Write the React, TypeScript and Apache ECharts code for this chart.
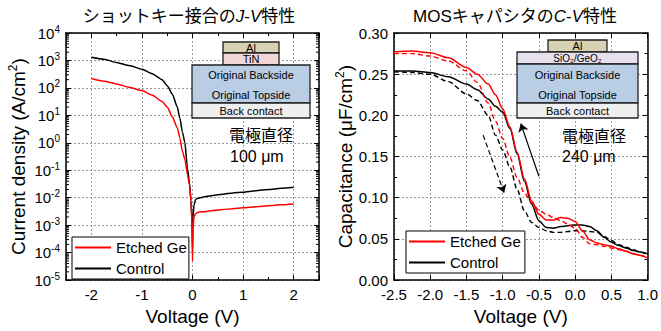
import React, { useEffect, useRef } from 'react';
import * as echarts from 'echarts';

const FONT = "'Liberation Sans', Arial, 'Noto Sans CJK JP', sans-serif";
const CJK = "'Liberation Sans', 'Noto Sans CJK JP', sans-serif";

// ---- J-V data (Schottky) ----
const jvVoltage = [-2, -1.75, -1.5, -1.25, -1, -0.8, -0.6, -0.5, -0.4, -0.3, -0.25, -0.2, -0.15, -0.1, -0.06, -0.03, -0.01, 0, 0.01, 0.03, 0.06, 0.1, 0.2, 0.4, 0.6, 0.8, 1.0, 1.25, 1.5, 1.75, 2.0];
const jvEtched = [220, 175, 140, 105, 80, 55, 32, 20, 9, 3.5, 1.5, 0.5, 0.25, 0.07, 0.03, 0.008, 0.001, 0.00005, 0.0008, 0.002, 0.0026, 0.0029, 0.0031, 0.0034, 0.0037, 0.004, 0.0043, 0.0047, 0.0051, 0.0055, 0.0059];
const jvControl = [1300, 1100, 850, 650, 480, 330, 200, 120, 60, 20, 8, 2.5, 1.0, 0.12, 0.035, 0.008, 0.0015, 0.00015, 0.002, 0.0055, 0.0085, 0.0095, 0.0105, 0.012, 0.0135, 0.015, 0.016, 0.018, 0.02, 0.022, 0.024];
const jvExponents = [-5, -4, -3, -2, -1, 0, 1, 2, 3, 4];

// ---- C-V data (MOS capacitor) ----
const cvVoltage = [-2.5, -2.25, -2.0, -1.75, -1.5, -1.35, -1.2, -1.1, -1.0, -0.9, -0.8, -0.7, -0.6, -0.5, -0.4, -0.3, -0.2, -0.1, 0.0, 0.1, 0.2, 0.3, 0.4, 0.5, 0.6, 0.7, 0.8, 0.9, 1.0];
const cvEtchedSolid = [0.277, 0.278, 0.276, 0.270, 0.258, 0.250, 0.238, 0.225, 0.208, 0.186, 0.155, 0.123, 0.096, 0.080, 0.073, 0.073, 0.076, 0.075, 0.071, 0.060, 0.049, 0.045, 0.043, 0.041, 0.038, 0.035, 0.032, 0.030, 0.027];
const cvEtchedDashed = [0.275, 0.275, 0.272, 0.266, 0.254, 0.240, 0.215, 0.193, 0.172, 0.149, 0.124, 0.106, 0.094, 0.085, 0.080, 0.076, 0.072, 0.068, 0.063, 0.052, 0.044, 0.043, 0.041, 0.039, 0.037, 0.035, 0.032, 0.030, 0.027];
const cvControlSolid = [0.254, 0.254, 0.252, 0.247, 0.238, 0.231, 0.220, 0.211, 0.204, 0.184, 0.153, 0.120, 0.092, 0.072, 0.064, 0.063, 0.065, 0.066, 0.067, 0.067, 0.065, 0.060, 0.052, 0.046, 0.042, 0.039, 0.036, 0.034, 0.032];
const cvControlDashed = [0.253, 0.252, 0.250, 0.241, 0.226, 0.218, 0.200, 0.176, 0.158, 0.137, 0.110, 0.084, 0.070, 0.064, 0.060, 0.058, 0.058, 0.059, 0.060, 0.060, 0.059, 0.058, 0.053, 0.048, 0.043, 0.040, 0.037, 0.034, 0.031];
const arrowSolid = [[-0.5, 0.126], [-0.75, 0.19]];
const arrowDashed = [[-1.27, 0.176], [-0.98, 0.106]];

const legendNames = ['Etched Ge', 'Control'];
const RED = '#ff0000';
const BLACK = '#000000';

const pair = (xs: number[], ys: number[]) => xs.map((x, i) => [x, ys[i]]);

const logMinor: number[] = [];
for (let i = 0; i < jvExponents.length - 1; i++) {
  for (let m = 2; m <= 9; m++) logMinor.push(m * Math.pow(10, jvExponents[i]));
}

const axisLine = { show: true, onZero: false, lineStyle: { color: '#000', width: 1.5 } };
const axisTick = { show: true, inside: true, length: 5, lineStyle: { color: '#000', width: 1 } };
const minorTick = { show: true, splitNumber: 2, length: 3, lineStyle: { color: '#000', width: 1 } };
const splitLine = { show: true, lineStyle: { color: '#9a9a9a', type: [2, 2], width: 1 } };
const labelStyle = { color: '#000', fontSize: 15, fontFamily: FONT };
const nameStyle = {
  color: '#000', fontSize: 19, fontFamily: FONT,
  rich: {
    n: { fontSize: 19, fontFamily: FONT, color: '#000', lineHeight: 22 },
    s: { fontSize: 12, fontFamily: FONT, color: '#000', lineHeight: 12, verticalAlign: 'top' },
  },
};

function box(x: number, y: number, w: number, h: number, fill: string) {
  return { type: 'rect', shape: { x, y, width: w, height: h }, style: { fill, stroke: '#222', lineWidth: 1.3 }, z: 100 };
}
function label(x: number, y: number, text: string, size: number, align = 'center', family = FONT) {
  return { type: 'text', x, y, style: { text, fill: '#000', fontSize: size, fontFamily: family, align, verticalAlign: 'middle' }, z: 101 };
}

const legendBase = {
  data: legendNames, orient: 'vertical', itemWidth: 36, itemHeight: 14, itemGap: 6,
  borderColor: '#000', borderWidth: 1, backgroundColor: '#fff', borderRadius: 0,
  itemStyle: { opacity: 0 },
  textStyle: { fontSize: 15, color: '#000', fontFamily: FONT }, selectedMode: false, z: 50,
};

export default function App() {
  const ref = useRef<HTMLDivElement>(null);
  useEffect(() => {
    if (!ref.current) return;
    const chart = echarts.init(ref.current, undefined, { renderer: 'svg' });
    const titleRich = {
      a: { fontSize: 17, fontFamily: CJK, color: '#000' },
      i: { fontSize: 17, fontFamily: FONT, fontStyle: 'italic', color: '#000' },
    };
    const option: any = {
      animation: false,
      backgroundColor: '#fff',
      textStyle: { fontFamily: FONT },
      grid: [
        { left: 66, top: 33, width: 253, height: 253 },
        { left: 394, top: 33, width: 254, height: 253 },
      ],
      xAxis: [
        {
          gridIndex: 0, type: 'value', min: -2.5, max: 2.5, minInterval: 1, maxInterval: 1, position: 'bottom',
          name: 'Voltage (V)', nameLocation: 'middle', nameGap: 22, nameTextStyle: nameStyle,
          axisLine, axisTick, minorTick, splitLine,
          axisLabel: { ...labelStyle, margin: 7, formatter: (v: number) => (Number.isInteger(v) ? String(v) : '') },
        },
        {
          gridIndex: 0, type: 'value', min: -2.5, max: 2.5, minInterval: 1, maxInterval: 1, position: 'top',
          axisLine, axisTick, minorTick, splitLine: { show: false }, axisLabel: { show: false },
        },
        {
          gridIndex: 1, type: 'value', min: -2.5, max: 1.0, interval: 0.5, position: 'bottom',
          name: 'Voltage (V)', nameLocation: 'middle', nameGap: 22, nameTextStyle: nameStyle,
          axisLine, axisTick, splitLine,
          axisLabel: { ...labelStyle, margin: 7, formatter: (v: number) => v.toFixed(1) },
        },
        {
          gridIndex: 1, type: 'value', min: -2.5, max: 1.0, interval: 0.5, position: 'top',
          axisLine, axisTick, splitLine: { show: false }, axisLabel: { show: false },
        },
      ],
      yAxis: [
        {
          gridIndex: 0, type: 'log', logBase: 10, min: 1e-5, max: 1e4, splitNumber: 9, position: 'left',
          name: '{n|Current density (A/cm}{s|2}{n|)}', nameLocation: 'middle', nameGap: 37, nameTextStyle: nameStyle,
          axisLine, axisTick, splitLine,
          axisLabel: {
            ...labelStyle, margin: 6,
            formatter: (v: number) => `{b|10}{s|${Math.round(Math.log10(v))}}`,
            rich: {
              b: { fontSize: 15, fontFamily: FONT, color: '#000', lineHeight: 18 },
              s: { fontSize: 10, fontFamily: FONT, color: '#000', lineHeight: 10, verticalAlign: 'top' },
            },
          },
        },
        {
          gridIndex: 0, type: 'log', logBase: 10, min: 1e-5, max: 1e4, splitNumber: 9, position: 'right',
          axisLine, axisTick, splitLine: { show: false }, axisLabel: { show: false },
        },
        {
          gridIndex: 1, type: 'value', min: 0, max: 0.3, interval: 0.05, position: 'left',
          name: '{n|Capacitance (μF/cm}{s|2}{n|)}', nameLocation: 'middle', nameGap: 37, nameTextStyle: nameStyle,
          axisLine, axisTick, minorTick, splitLine,
          axisLabel: { ...labelStyle, margin: 6, formatter: (v: number) => v.toFixed(2) },
        },
        {
          gridIndex: 1, type: 'value', min: 0, max: 0.3, interval: 0.05, position: 'right',
          axisLine, axisTick, minorTick, splitLine: { show: false }, axisLabel: { show: false },
        },
      ],
      legend: [
        { ...legendBase, left: 72, top: 237, padding: [3, 2, 3, 2] },
        { ...legendBase, left: 406, top: 231, padding: [3, 4, 3, 2] },
      ],
      series: [
        {
          type: 'custom', name: 'minor', xAxisIndex: 0, yAxisIndex: 0, silent: true,
          data: logMinor.map((v) => [0, v]),
          renderItem: (_p: any, api: any) => {
            const v = api.value(1);
            const l = api.coord([-2.5, v]);
            const r = api.coord([2.5, v]);
            return {
              type: 'group',
              children: [
                { type: 'line', shape: { x1: l[0], y1: l[1], x2: l[0] + 3, y2: l[1] }, style: { stroke: '#000', lineWidth: 1 } },
                { type: 'line', shape: { x1: r[0] - 3, y1: r[1], x2: r[0], y2: r[1] }, style: { stroke: '#000', lineWidth: 1 } },
              ],
            };
          },
        },
        {
          type: 'line', name: 'Control', xAxisIndex: 0, yAxisIndex: 0, data: pair(jvVoltage, jvControl),
          symbol: 'none', smooth: 0.2, smoothMonotone: 'x', lineStyle: { color: BLACK, width: 1.5 }, itemStyle: { color: BLACK }, z: 3,
        },
        {
          type: 'line', name: 'Etched Ge', xAxisIndex: 0, yAxisIndex: 0, data: pair(jvVoltage, jvEtched),
          symbol: 'none', smooth: 0.2, smoothMonotone: 'x', lineStyle: { color: RED, width: 1.5 }, itemStyle: { color: RED }, z: 4,
        },
        {
          type: 'line', name: 'Control (dashed)', xAxisIndex: 2, yAxisIndex: 2, data: pair(cvVoltage, cvControlDashed),
          symbol: 'none', smooth: 0.3, smoothMonotone: 'x', lineStyle: { color: BLACK, width: 1.4, type: [5, 3] }, itemStyle: { color: BLACK }, z: 3,
        },
        {
          type: 'line', name: 'Control', xAxisIndex: 2, yAxisIndex: 2, data: pair(cvVoltage, cvControlSolid),
          symbol: 'none', smooth: 0.3, smoothMonotone: 'x', lineStyle: { color: BLACK, width: 1.5 }, itemStyle: { color: BLACK }, z: 3,
          markLine: {
            silent: true, symbol: ['none', 'arrow'], symbolSize: 8, animation: false,
            label: { show: false }, emphasis: { disabled: true },
            lineStyle: { color: '#000', width: 1.2, type: 'solid' },
            data: [
              [{ coord: arrowSolid[0] }, { coord: arrowSolid[1] }],
              [{ coord: arrowDashed[0], lineStyle: { type: [5, 3], color: '#000', width: 1.2 } }, { coord: arrowDashed[1] }],
            ],
          },
        },
        {
          type: 'line', name: 'Etched Ge (dashed)', xAxisIndex: 2, yAxisIndex: 2, data: pair(cvVoltage, cvEtchedDashed),
          symbol: 'none', smooth: 0.3, smoothMonotone: 'x', lineStyle: { color: RED, width: 1.4, type: [5, 3] }, itemStyle: { color: RED }, z: 4,
        },
        {
          type: 'line', name: 'Etched Ge', xAxisIndex: 2, yAxisIndex: 2, data: pair(cvVoltage, cvEtchedSolid),
          symbol: 'none', smooth: 0.3, smoothMonotone: 'x', lineStyle: { color: RED, width: 1.5 }, itemStyle: { color: RED }, z: 4,
        },
      ],
      graphic: [
        { type: 'text', x: 189, y: 16, z: 101, style: { text: '{a|ショットキー接合の}{i|J}{a|-}{i|V}{a|特性}', rich: titleRich, align: 'center', verticalAlign: 'middle' } },
        { type: 'text', x: 515, y: 16, z: 101, style: { text: '{a|MOSキャパシタの}{i|C}{a|-}{i|V}{a|特性}', rich: titleRich, align: 'center', verticalAlign: 'middle' } },
        // left inset
        box(223, 42, 56, 11, '#d8d2b4'),
        box(223, 53, 56, 12, '#f3d6d6'),
        box(192, 65, 118, 38, '#b9cde5'),
        box(192, 103, 118, 15, '#efefef'),
        label(251, 47.5, 'Al', 11),
        label(251, 59, 'TiN', 11),
        label(251, 75, 'Original Backside', 11),
        label(251, 95, 'Original Topside', 11),
        label(251, 110.5, 'Back contact', 11),
        label(229, 135, '電極直径', 16, 'left', CJK),
        label(230, 156, '100 μm', 16, 'left'),
        // right inset
        box(548, 40, 59, 12, '#d8d2b4'),
        box(517, 52, 121, 12, '#e6e0ee'),
        box(517, 64, 121, 39, '#b9cde5'),
        box(517, 103, 121, 15, '#efefef'),
        label(577.5, 46, 'Al', 11),
        label(577.5, 58, 'SiO₂/GeO₂', 10),
        label(577.5, 75, 'Original Backside', 11),
        label(577.5, 95, 'Original Topside', 11),
        label(577.5, 111, 'Back contact', 11),
        label(562, 136, '電極直径', 16, 'left', CJK),
        label(562, 156, '240 μm', 16, 'left'),
      ],
    };
    chart.setOption(option);
    return () => chart.dispose();
  }, []);
  return <div ref={ref} style={{ position: 'absolute', left: 0, top: 0, width: 661, height: 331 }} />;
}
